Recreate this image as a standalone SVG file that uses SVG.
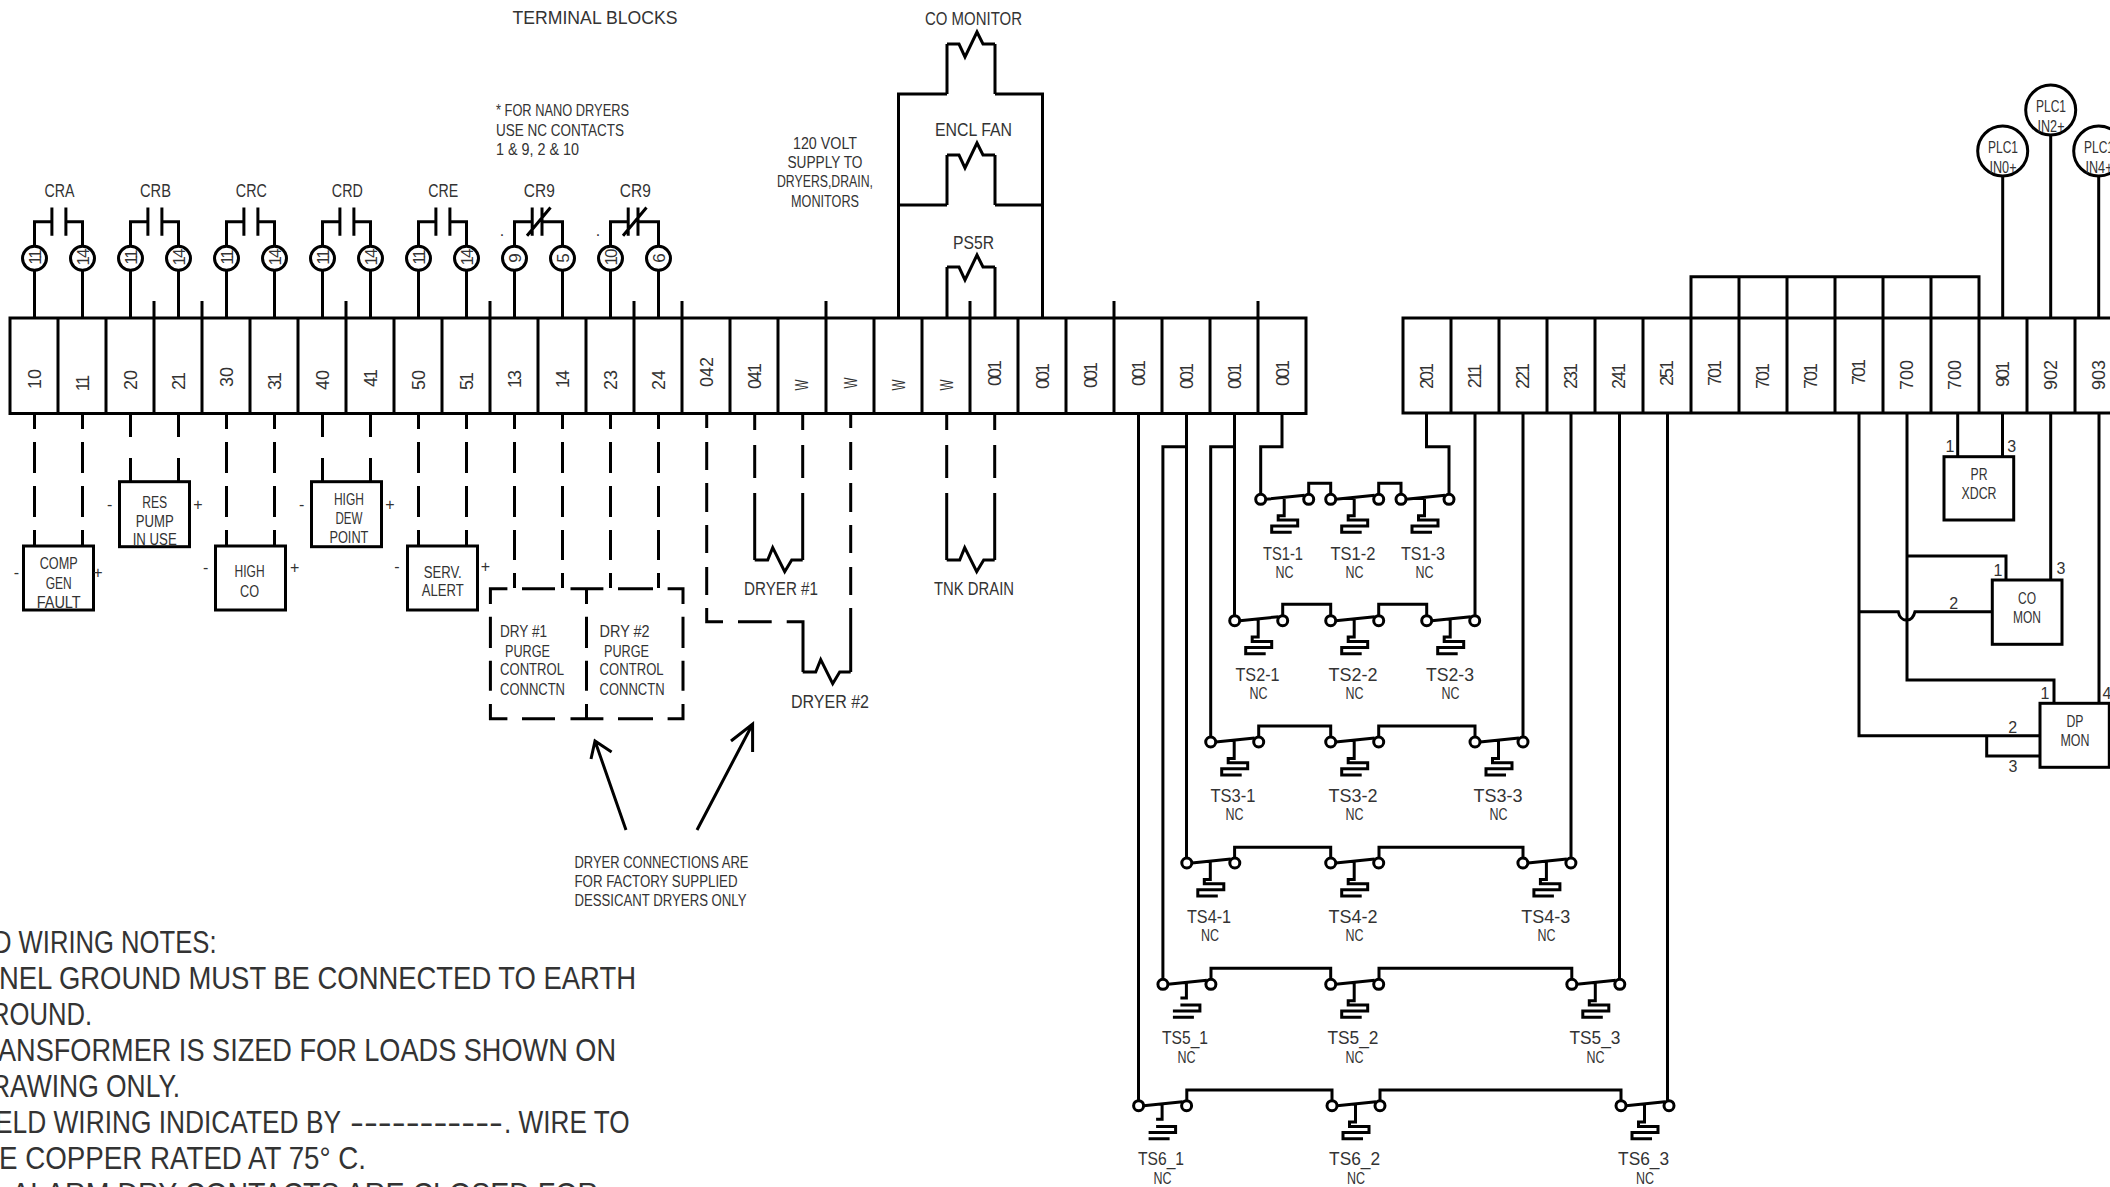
<svg xmlns="http://www.w3.org/2000/svg" width="2110" height="1187" viewBox="0 0 2110 1187">
<style>
text{font-family:"Liberation Sans Narrow","Liberation Sans",sans-serif;fill:#333;text-anchor:middle;font-size:16px}
.l{text-anchor:start}
.m{font-size:18px}
.ts{font-size:19px}
.r{font-size:18px;font-family:"Liberation Sans",sans-serif}
.r1{letter-spacing:-2px}
.c{font-size:17px;font-family:"Liberation Sans",sans-serif}
.n{font-size:31px;text-anchor:start}
.w,.w path,.w line,.w rect,.w circle{fill:none;stroke:#000;stroke-width:3}
rect.b,circle.b{fill:#fff;stroke:#000;stroke-width:3}
.sw circle{fill:#fff;stroke:#000;stroke-width:3}
.sw path{fill:none;stroke:#000;stroke-width:3}
</style>
<defs>
<g id="no"><path d="M0,245.7V221.7H17.4M17.4,207.5V235.8M31.4,207.5V235.8M31.4,221.7H48V245.7"/></g>
<g id="nc"><path d="M0,245.7V221.7H17.7M17.7,207.5V235.8M27.5,207.5V235.8M12.5,235.8L36,207.5M27.5,221.7H48V245.7"/></g>
<g id="coil"><path d="M0,0H13L18,-12.3L30,11.7L37,0H48"/></g>
<g id="coilt"><path d="M0,0H12L18,13L30,-12L36,0H48"/></g>
<g id="sw" class="sw"><path d="M5,0L44,-4M23.5,-1V16.4H17.5V20.7H37V26.7H11V33H31"/><circle r="5"/><circle cx="48" r="5"/></g>
<g id="swo" class="sw"><path d="M5,0L44,-4M23.5,-1V13.6H17.5M17.5,20.7H37V26.7H10M10,33H31"/><circle r="5"/><circle cx="48" r="5"/></g>
</defs>

<g id="connectors" class="w">
<g transform="translate(.5,0)">
<use href="#no" x="34"/><use href="#no" x="130"/><use href="#no" x="226"/><use href="#no" x="322"/><use href="#no" x="418"/><use href="#nc" x="514"/><use href="#nc" x="610"/>
<path d="M34,270V318M82,270V318M130,270V318M178,270V318M226,270V318M274,270V318M322,270V318M370,270V318M418,270V318M466,270V318M514,270V318M562,270V318M610,270V318M658,270V318"/>
<path d="M34,414V429M34,442V473M34,486V517M34,530V546M82,414V429M82,442V473M82,486V517M82,530V546M226,414V429M226,442V473M226,486V517M226,530V546M274,414V429M274,442V473M274,486V517M274,530V546M418,414V429M418,442V473M418,486V517M418,530V546M466,414V429M466,442V473M466,486V517M466,530V546"/>
<path d="M130,414V437M130,458V481M178,414V437M178,458V481M322,414V437M322,458V481M370,414V437M370,458V481"/>
<path d="M514,414V429M514,442V473M514,486V517M514,530V560M514,573V588M562,414V429M562,442V473M562,486V517M562,530V560M562,573V588M610,414V429M610,442V473M610,486V517M610,530V560M610,573V588M658,414V429M658,442V473M658,486V517M658,530V560M658,573V588"/>
</g>
<path d="M154,301V318M202,301V318M346,301V318M490,301V318M634,301V318M682,301V318M826,301V318M970,301V318M1114,301V318M1258,301V318"/>
<path d="M947,318V267M995,318V267M947,205V155M995,205V155M947,94V44M995,94V44M898.5,318V94H947M1042.5,318V94H995M898.5,205H947M1042.5,205H995"/>
<use href="#coilt" x="947" y="267"/><use href="#coilt" x="947" y="155"/><use href="#coilt" x="947" y="44"/>
<path d="M706.7,415V428M706.7,442V470M706.7,483V512M706.7,525V553M706.7,567V595M706.7,608V621.7H723M738,621.7H771.7M786.7,621.7H803V672"/>
<path d="M850.7,415V428M850.7,442V470M850.7,483V512M850.7,525V553M850.7,567V595M850.7,608V672"/>
<use href="#coil" x="802.7" y="672"/>
<path d="M754.7,415V430M754.7,445V478M754.7,493V560M802.7,415V430M802.7,445V478M802.7,493V560M946.7,415V430M946.7,445V478M946.7,493V560M994.7,415V430M994.7,445V478M994.7,493V560"/>
<use href="#coil" x="754.7" y="560"/><use href="#coil" x="946.7" y="560"/>
<path d="M626,830L595,741M591,759L595,741L611.6,752M697,830L752.6,724M731,741L752.6,724V752"/>
<path d="M1282,413V446.7H1260.7V499M1426.5,413V446.7H1449V499M1234.5,413V621M1234.5,446.7H1210.7V742M1186.5,413V863M1186.5,446.7H1162.9V984M1138.5,413V1106M1475,413V621M1523,413V742M1571,413V863M1619.5,413V984M1667.5,413V1105"/>
<path d="M1308.7,495V483.3H1330.7V495M1378.7,495V483.3H1401V495M1282.7,616V604.3H1330.7V616M1378.7,616V604.3H1426.7V616M1258.7,737V726H1330.7V737M1378.7,737V726H1475V737M1234.6,858V847.3H1330.7V858M1379,858V847.3H1523V858M1211,979V968.3H1330.7V979M1379,979V968.3H1571.8V979M1186.8,1100V1090H1332V1100M1380,1100V1090H1621V1100"/>
<path d="M2002.7,176V318M2050.7,135V318M2098.7,176V318"/>
<path d="M1691,318V276.7H1979V318M1739,276.7V318M1787,276.7V318M1835,276.7V318M1883,276.7V318M1931,276.7V318"/>
<path d="M1957.7,413V456.7M2002.5,413V456.7M2050.7,413V580M2099,413V703"/>
<path d="M1907,413V680H2054V703.3M1907,556H2006V580M1859,413V735.7H2040M1986.7,735.7V756H2040M1859,611.7H1898.3C1900,622 1912,624 1915,611.7H1992.3"/>
</g>

<g id="strip-1" class="w">
<rect x="10" y="318" width="1296" height="95.5"/>
<path d="M58,318V413M106,318V413M154,318V413M202,318V413M250,318V413M298,318V413M346,318V413M394,318V413M442,318V413M490,318V413M538,318V413M586,318V413M634,318V413M682,318V413M730,318V413M778,318V413M826,318V413M874,318V413M922,318V413M970,318V413M1018,318V413M1066,318V413M1114,318V413M1162,318V413M1210,318V413M1258,318V413"/>
</g>
<g id="strip-2" class="w">
<path d="M2110,318H1403V413H2110"/>
<path d="M1451,318V413M1499,318V413M1547,318V413M1595,318V413M1643,318V413M1691,318V413M1739,318V413M1787,318V413M1835,318V413M1883,318V413M1931,318V413M1979,318V413M2027,318V413M2075,318V413"/>
</g>
<g id="strip-labels">
<text class="r" transform="translate(40.5,379) rotate(-90)">10</text>
<text class="r r1" transform="translate(88.5,384) rotate(-90)">11</text>
<text class="r" transform="translate(136.5,380) rotate(-90)">20</text>
<text class="r r1" transform="translate(184.5,382) rotate(-90)">21</text>
<text class="r" transform="translate(232.5,377) rotate(-90)">30</text>
<text class="r r1" transform="translate(280.5,382) rotate(-90)">31</text>
<text class="r" transform="translate(328.5,380) rotate(-90)">40</text>
<text class="r r1" transform="translate(376.5,379) rotate(-90)">41</text>
<text class="r" transform="translate(424.5,380) rotate(-90)">50</text>
<text class="r r1" transform="translate(472.5,382) rotate(-90)">51</text>
<text class="r r1" transform="translate(520.5,380) rotate(-90)">13</text>
<text class="r r1" transform="translate(568.5,380) rotate(-90)">14</text>
<text class="r" transform="translate(616.5,380) rotate(-90)">23</text>
<text class="r" transform="translate(664.5,380) rotate(-90)">24</text>
<text class="r" transform="translate(713,372) rotate(-90)">042</text>
<text class="r r1" transform="translate(761,377) rotate(-90)">041</text>
<text class="r" textLength="11" lengthAdjust="spacingAndGlyphs" transform="translate(808,385) rotate(-90)">W</text>
<text class="r" textLength="11" lengthAdjust="spacingAndGlyphs" transform="translate(856.5,383) rotate(-90)">W</text>
<text class="r" textLength="11" lengthAdjust="spacingAndGlyphs" transform="translate(905,385) rotate(-90)">W</text>
<text class="r" textLength="11" lengthAdjust="spacingAndGlyphs" transform="translate(953,385) rotate(-90)">W</text>
<text class="r r1" transform="translate(1001,374) rotate(-90)">001</text>
<text class="r r1" transform="translate(1049,377) rotate(-90)">001</text>
<text class="r r1" transform="translate(1097,376) rotate(-90)">001</text>
<text class="r r1" transform="translate(1145,374) rotate(-90)">001</text>
<text class="r r1" transform="translate(1193,377) rotate(-90)">001</text>
<text class="r r1" transform="translate(1241,377) rotate(-90)">001</text>
<text class="r r1" transform="translate(1289,374) rotate(-90)">001</text>
<text class="r r1" transform="translate(1433,377) rotate(-90)">201</text>
<text class="r r1" transform="translate(1481,377) rotate(-90)">211</text>
<text class="r r1" transform="translate(1529,377) rotate(-90)">221</text>
<text class="r r1" transform="translate(1577,377) rotate(-90)">231</text>
<text class="r r1" transform="translate(1625,377) rotate(-90)">241</text>
<text class="r r1" transform="translate(1673,374) rotate(-90)">251</text>
<text class="r r1" transform="translate(1721,374) rotate(-90)">701</text>
<text class="r r1" transform="translate(1769,377) rotate(-90)">701</text>
<text class="r r1" transform="translate(1817,377) rotate(-90)">701</text>
<text class="r r1" transform="translate(1865,373) rotate(-90)">701</text>
<text class="r" transform="translate(1913,375) rotate(-90)">700</text>
<text class="r" transform="translate(1961,375) rotate(-90)">700</text>
<text class="r r1" transform="translate(2009,375) rotate(-90)">901</text>
<text class="r" transform="translate(2057,375) rotate(-90)">902</text>
<text class="r" transform="translate(2105,375) rotate(-90)">903</text>
</g>

<g id="contact-terminals">
<g transform="translate(.5,0)"><circle class="b" cx="34" cy="258.3" r="12"/><circle class="b" cx="82" cy="258.3" r="12"/><circle class="b" cx="130" cy="258.3" r="12"/><circle class="b" cx="178" cy="258.3" r="12"/><circle class="b" cx="226" cy="258.3" r="12"/><circle class="b" cx="274" cy="258.3" r="12"/><circle class="b" cx="322" cy="258.3" r="12"/><circle class="b" cx="370" cy="258.3" r="12"/><circle class="b" cx="418" cy="258.3" r="12"/><circle class="b" cx="466" cy="258.3" r="12"/><circle class="b" cx="514" cy="258.3" r="12"/><circle class="b" cx="562" cy="258.3" r="12"/><circle class="b" cx="610" cy="258.3" r="12"/><circle class="b" cx="658" cy="258.3" r="12"/></g>
<text class="c r1" transform="translate(40.5,258) rotate(-90)">11</text>
<text class="c r1" transform="translate(88.5,258) rotate(-90)">14</text>
<text class="c r1" transform="translate(136.5,258) rotate(-90)">11</text>
<text class="c r1" transform="translate(184.5,258) rotate(-90)">14</text>
<text class="c r1" transform="translate(232.5,258) rotate(-90)">11</text>
<text class="c r1" transform="translate(280.5,258) rotate(-90)">14</text>
<text class="c r1" transform="translate(328.5,258) rotate(-90)">11</text>
<text class="c r1" transform="translate(376.5,258) rotate(-90)">14</text>
<text class="c r1" transform="translate(424.5,258) rotate(-90)">11</text>
<text class="c r1" transform="translate(472.5,258) rotate(-90)">14</text>
<text class="c" transform="translate(520.5,258) rotate(-90)">9</text>
<text class="c" transform="translate(568.5,258) rotate(-90)">5</text>
<text class="c r1" transform="translate(616.5,258) rotate(-90)">10</text>
<text class="c" transform="translate(664.5,258) rotate(-90)">6</text>
<text class="m" x="59.5" y="196.5" textLength="30" lengthAdjust="spacingAndGlyphs">CRA</text>
<text class="m" x="155.5" y="196.5" textLength="31" lengthAdjust="spacingAndGlyphs">CRB</text>
<text class="m" x="251.3" y="196.5" textLength="31" lengthAdjust="spacingAndGlyphs">CRC</text>
<text class="m" x="347.3" y="196.5" textLength="31" lengthAdjust="spacingAndGlyphs">CRD</text>
<text class="m" x="443.3" y="196.5" textLength="30" lengthAdjust="spacingAndGlyphs">CRE</text>
<text class="m" x="539.3" y="196.5" textLength="31" lengthAdjust="spacingAndGlyphs">CR9</text>
<text class="m" x="635.3" y="196.5" textLength="31" lengthAdjust="spacingAndGlyphs">CR9</text>
<text x="502" y="236">.</text><text x="598" y="236">.</text>
</g>

<g id="headings">
<text class="m" x="595" y="24" textLength="165" lengthAdjust="spacingAndGlyphs">TERMINAL BLOCKS</text>
<text class="m" x="973.5" y="25" textLength="97" lengthAdjust="spacingAndGlyphs">CO MONITOR</text>
<text class="m" x="973.5" y="136" textLength="77" lengthAdjust="spacingAndGlyphs">ENCL FAN</text>
<text class="m" x="973.5" y="249" textLength="41" lengthAdjust="spacingAndGlyphs">PS5R</text>
<text class="l" x="496" y="116" textLength="133" lengthAdjust="spacingAndGlyphs">* FOR NANO DRYERS</text>
<text class="l" x="496" y="136" textLength="128" lengthAdjust="spacingAndGlyphs">USE NC CONTACTS</text>
<text class="l" x="496" y="155" textLength="83" lengthAdjust="spacingAndGlyphs">1 &amp; 9, 2 &amp; 10</text>
<text x="825" y="149" textLength="64" lengthAdjust="spacingAndGlyphs">120 VOLT</text>
<text x="825" y="168" textLength="75" lengthAdjust="spacingAndGlyphs">SUPPLY TO</text>
<text x="825" y="187" textLength="96" lengthAdjust="spacingAndGlyphs">DRYERS,DRAIN,</text>
<text x="825" y="207" textLength="68" lengthAdjust="spacingAndGlyphs">MONITORS</text>
<text class="m" x="781" y="594.5" textLength="74" lengthAdjust="spacingAndGlyphs">DRYER #1</text>
<text class="m" x="830" y="707.5" textLength="78" lengthAdjust="spacingAndGlyphs">DRYER #2</text>
<text class="m" x="974" y="594.5" textLength="80" lengthAdjust="spacingAndGlyphs">TNK DRAIN</text>
<text class="l" x="574.5" y="868" textLength="174" lengthAdjust="spacingAndGlyphs">DRYER CONNECTIONS ARE</text>
<text class="l" x="574.5" y="887" textLength="163" lengthAdjust="spacingAndGlyphs">FOR FACTORY SUPPLIED</text>
<text class="l" x="574.5" y="906" textLength="172" lengthAdjust="spacingAndGlyphs">DESSICANT DRYERS ONLY</text>
</g>

<g id="comp-gen-fault"><rect class="b" x="23.5" y="546" width="70" height="64"/>
<text x="58.7" y="569" textLength="38" lengthAdjust="spacingAndGlyphs">COMP</text><text x="58.7" y="588.5" textLength="26" lengthAdjust="spacingAndGlyphs">GEN</text><text x="58.7" y="607.5" textLength="44" lengthAdjust="spacingAndGlyphs">FAULT</text>
<text x="16.5" y="578">-</text><text x="98" y="578">+</text></g>
<g id="res-pump"><rect class="b" x="119.5" y="481.7" width="70" height="65"/>
<text x="154.7" y="507.5" textLength="25" lengthAdjust="spacingAndGlyphs">RES</text><text x="154.7" y="526.5" textLength="38" lengthAdjust="spacingAndGlyphs">PUMP</text><text x="154.7" y="545" textLength="44" lengthAdjust="spacingAndGlyphs">IN USE</text>
<text x="109.7" y="510">-</text><text x="198" y="510">+</text></g>
<g id="high-co"><rect class="b" x="215.5" y="546" width="70" height="64"/>
<text x="249.6" y="577" textLength="30" lengthAdjust="spacingAndGlyphs">HIGH</text><text x="249.6" y="596.5" textLength="19" lengthAdjust="spacingAndGlyphs">CO</text>
<text x="205.7" y="573">-</text><text x="294.6" y="573">+</text></g>
<g id="high-dew-point"><rect class="b" x="311.5" y="481.7" width="70" height="65"/>
<text x="348.9" y="504.5" textLength="30" lengthAdjust="spacingAndGlyphs">HIGH</text><text x="348.9" y="524" textLength="27" lengthAdjust="spacingAndGlyphs">DEW</text><text x="348.9" y="543" textLength="39" lengthAdjust="spacingAndGlyphs">POINT</text>
<text x="301.7" y="510">-</text><text x="390" y="510">+</text></g>
<g id="serv-alert"><rect class="b" x="407.5" y="546" width="70" height="64"/>
<text x="442.7" y="577.5" textLength="38" lengthAdjust="spacingAndGlyphs">SERV.</text><text x="442.7" y="596" textLength="42" lengthAdjust="spacingAndGlyphs">ALERT</text>
<text x="397" y="572">-</text><text x="485.5" y="572">+</text></g>

<g id="dry-purge-control">
<path class="w" d="M490.4,604V588.7H507.4M522,588.7H555M570.5,588.7H603.4M618,588.7H653M667.6,588.7H683V604M490.4,616.7V648M490.4,660.7V690.7M490.4,704V718.7H507.4M522,718.7H555M570.5,718.7H603.4M618,718.7H653M667.6,718.7H683V704M683,690.7V660.7M683,648V616.7M586.5,588.7V604M586.5,616.7V648M586.5,660.7V690.7M586.5,704V718.7"/>
<text class="l" x="500" y="636.5" textLength="47" lengthAdjust="spacingAndGlyphs">DRY #1</text>
<text class="l" x="505" y="656.5" textLength="45" lengthAdjust="spacingAndGlyphs">PURGE</text>
<text class="l" x="500" y="675" textLength="64" lengthAdjust="spacingAndGlyphs">CONTROL</text>
<text class="l" x="500" y="694.5" textLength="65" lengthAdjust="spacingAndGlyphs">CONNCTN</text>
<text class="l" x="599.6" y="636.5" textLength="50" lengthAdjust="spacingAndGlyphs">DRY #2</text>
<text class="l" x="604" y="656.5" textLength="45" lengthAdjust="spacingAndGlyphs">PURGE</text>
<text class="l" x="599.6" y="675" textLength="64" lengthAdjust="spacingAndGlyphs">CONTROL</text>
<text class="l" x="599.6" y="694.5" textLength="65" lengthAdjust="spacingAndGlyphs">CONNCTN</text>
</g>

<g id="ts1">
<use href="#sw" x="1260.7" y="499.3"/><use href="#sw" x="1330.7" y="499.3"/><use href="#sw" x="1401" y="499.3"/>
<text class="ts" x="1283" y="559.5" textLength="40" lengthAdjust="spacingAndGlyphs">TS1-1</text><text class="ts" x="1353" y="559.5" textLength="45" lengthAdjust="spacingAndGlyphs">TS1-2</text><text class="ts" x="1423" y="559.5" textLength="44" lengthAdjust="spacingAndGlyphs">TS1-3</text>
<text x="1284.5" y="577.5" textLength="18" lengthAdjust="spacingAndGlyphs">NC</text><text x="1354.5" y="577.5" textLength="18" lengthAdjust="spacingAndGlyphs">NC</text><text x="1424.5" y="577.5" textLength="18" lengthAdjust="spacingAndGlyphs">NC</text>
</g>
<g id="ts2">
<use href="#sw" x="1234.7" y="620.7"/><use href="#sw" x="1330.7" y="620.7"/><use href="#sw" x="1426.7" y="620.7"/>
<text class="ts" x="1257.5" y="680.5" textLength="44" lengthAdjust="spacingAndGlyphs">TS2-1</text><text class="ts" x="1353" y="680.5" textLength="49" lengthAdjust="spacingAndGlyphs">TS2-2</text><text class="ts" x="1450" y="680.5" textLength="48" lengthAdjust="spacingAndGlyphs">TS2-3</text>
<text x="1258.5" y="698.5" textLength="18" lengthAdjust="spacingAndGlyphs">NC</text><text x="1354.5" y="698.5" textLength="18" lengthAdjust="spacingAndGlyphs">NC</text><text x="1450.5" y="698.5" textLength="18" lengthAdjust="spacingAndGlyphs">NC</text>
</g>
<g id="ts3">
<use href="#sw" x="1210.7" y="742"/><use href="#sw" x="1330.7" y="742"/><use href="#sw" x="1475" y="742"/>
<text class="ts" x="1233" y="802" textLength="45" lengthAdjust="spacingAndGlyphs">TS3-1</text><text class="ts" x="1353" y="802" textLength="49" lengthAdjust="spacingAndGlyphs">TS3-2</text><text class="ts" x="1498" y="802" textLength="49" lengthAdjust="spacingAndGlyphs">TS3-3</text>
<text x="1234.5" y="820" textLength="18" lengthAdjust="spacingAndGlyphs">NC</text><text x="1354.5" y="820" textLength="18" lengthAdjust="spacingAndGlyphs">NC</text><text x="1498.5" y="820" textLength="18" lengthAdjust="spacingAndGlyphs">NC</text>
</g>
<g id="ts4">
<use href="#sw" x="1186.8" y="863"/><use href="#sw" x="1330.7" y="863"/><use href="#sw" x="1522.9" y="863"/>
<text class="ts" x="1209" y="922.5" textLength="44" lengthAdjust="spacingAndGlyphs">TS4-1</text><text class="ts" x="1353" y="922.5" textLength="49" lengthAdjust="spacingAndGlyphs">TS4-2</text><text class="ts" x="1545.7" y="922.5" textLength="49" lengthAdjust="spacingAndGlyphs">TS4-3</text>
<text x="1210" y="941" textLength="18" lengthAdjust="spacingAndGlyphs">NC</text><text x="1354.5" y="941" textLength="18" lengthAdjust="spacingAndGlyphs">NC</text><text x="1546.5" y="941" textLength="18" lengthAdjust="spacingAndGlyphs">NC</text>
</g>
<g id="ts5">
<use href="#swo" x="1162.9" y="984.3"/><use href="#sw" x="1330.7" y="984.3"/><use href="#sw" x="1571.8" y="984.3"/>
<text class="ts" x="1185" y="1044" textLength="46" lengthAdjust="spacingAndGlyphs">TS5_1</text><text class="ts" x="1353" y="1044" textLength="51" lengthAdjust="spacingAndGlyphs">TS5_2</text><text class="ts" x="1595" y="1044" textLength="51" lengthAdjust="spacingAndGlyphs">TS5_3</text>
<text x="1186.5" y="1062.5" textLength="18" lengthAdjust="spacingAndGlyphs">NC</text><text x="1354.5" y="1062.5" textLength="18" lengthAdjust="spacingAndGlyphs">NC</text><text x="1595.5" y="1062.5" textLength="18" lengthAdjust="spacingAndGlyphs">NC</text>
</g>
<g id="ts6">
<use href="#swo" x="1138.6" y="1105.7"/><use href="#sw" x="1332" y="1105.7"/><use href="#sw" x="1621" y="1105.7"/>
<text class="ts" x="1161" y="1165" textLength="46" lengthAdjust="spacingAndGlyphs">TS6_1</text><text class="ts" x="1354.6" y="1165" textLength="51" lengthAdjust="spacingAndGlyphs">TS6_2</text><text class="ts" x="1643.6" y="1165" textLength="51" lengthAdjust="spacingAndGlyphs">TS6_3</text>
<text x="1162.5" y="1183.5" textLength="18" lengthAdjust="spacingAndGlyphs">NC</text><text x="1356" y="1183.5" textLength="18" lengthAdjust="spacingAndGlyphs">NC</text><text x="1645" y="1183.5" textLength="18" lengthAdjust="spacingAndGlyphs">NC</text>
</g>

<g id="plc1-in0"><circle class="b" cx="2002.7" cy="151" r="25"/><text x="2003" y="152.5" textLength="30" lengthAdjust="spacingAndGlyphs">PLC1</text><text x="2003" y="172.5" textLength="27" lengthAdjust="spacingAndGlyphs">IN0+</text></g>
<g id="plc1-in2"><circle class="b" cx="2050.7" cy="110" r="25"/><text x="2051" y="111.5" textLength="30" lengthAdjust="spacingAndGlyphs">PLC1</text><text x="2051" y="131.5" textLength="27" lengthAdjust="spacingAndGlyphs">IN2+</text></g>
<g id="plc1-in4"><circle class="b" cx="2098.7" cy="151" r="25"/><text x="2099" y="152.5" textLength="30" lengthAdjust="spacingAndGlyphs">PLC1</text><text x="2099" y="172.5" textLength="27" lengthAdjust="spacingAndGlyphs">IN4+</text></g>

<g id="pr-xdcr"><rect class="b" x="1944" y="456.7" width="69.7" height="63.3"/>
<text x="1979" y="480" textLength="17" lengthAdjust="spacingAndGlyphs">PR</text><text x="1979" y="499" textLength="35" lengthAdjust="spacingAndGlyphs">XDCR</text>
<text x="1950" y="452">1</text><text x="2011.7" y="452">3</text></g>
<g id="co-mon"><rect class="b" x="1992.3" y="580" width="69.7" height="64.3"/>
<text x="2027" y="603.5" textLength="18" lengthAdjust="spacingAndGlyphs">CO</text><text x="2027" y="622.5" textLength="28" lengthAdjust="spacingAndGlyphs">MON</text>
<text x="1998" y="575.5">1</text><text x="2061" y="574">3</text><text x="1953.7" y="609">2</text></g>
<g id="dp-mon"><rect class="b" x="2040" y="703.3" width="69.3" height="64"/>
<text x="2075" y="726.5" textLength="17" lengthAdjust="spacingAndGlyphs">DP</text><text x="2075" y="746" textLength="29" lengthAdjust="spacingAndGlyphs">MON</text>
<text x="2045" y="698.5">1</text><text x="2012.7" y="732.5">2</text><text x="2013" y="771.5">3</text><text x="2107" y="698.5">4</text></g>

<g id="notes">
<text class="n" x="-7" y="953" textLength="223.5" lengthAdjust="spacingAndGlyphs">D WIRING NOTES:</text>
<text class="n" x="-1" y="989" textLength="637" lengthAdjust="spacingAndGlyphs">NEL GROUND MUST BE CONNECTED TO EARTH</text>
<text class="n" x="-9" y="1025" textLength="101" lengthAdjust="spacingAndGlyphs">ROUND.</text>
<text class="n" x="-2" y="1061" textLength="618" lengthAdjust="spacingAndGlyphs">ANSFORMER IS SIZED FOR LOADS SHOWN ON</text>
<text class="n" x="-9" y="1097" textLength="189" lengthAdjust="spacingAndGlyphs">RAWING ONLY.</text>
<text class="n" x="-5" y="1133" textLength="346" lengthAdjust="spacingAndGlyphs">ELD WIRING INDICATED BY</text>
<text class="n" x="350" y="1133" textLength="153" lengthAdjust="spacingAndGlyphs">-----------</text>
<text class="n" x="504" y="1133" textLength="125.5" lengthAdjust="spacingAndGlyphs">. WIRE TO</text>
<text class="n" x="-1" y="1169" textLength="367" lengthAdjust="spacingAndGlyphs">E COPPER RATED AT 75° C.</text>
<text class="n" x="-10" y="1205" textLength="608" lengthAdjust="spacingAndGlyphs">L ALARM DRY CONTACTS ARE CLOSED FOR</text>
</g>
</svg>
